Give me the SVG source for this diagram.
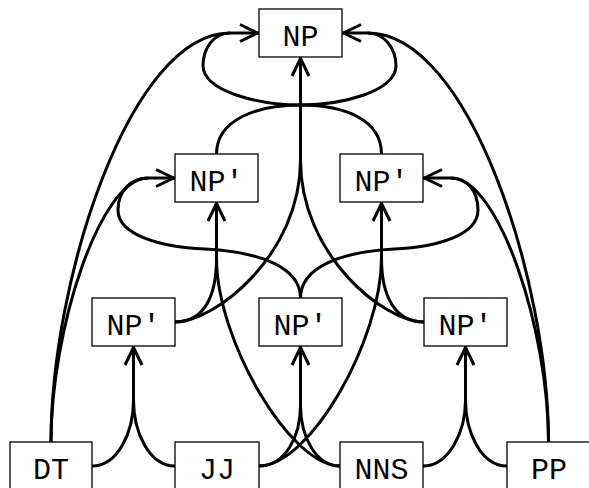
<svg xmlns="http://www.w3.org/2000/svg" width="589" height="488" viewBox="0 0 589 488">
  <style>
    .node rect { fill: #fff; stroke: #000; stroke-width: 1.3; }
    .node text { font-family: "Liberation Mono", "DejaVu Sans Mono", monospace; font-size: 30px; text-anchor: middle; fill: #000; }
    .edges path { fill: none; stroke: #000; stroke-width: 3; }
    .edges path.head { marker-end: url(#arrow); }
  </style>
  <defs>
    <marker id="arrow" markerUnits="userSpaceOnUse" orient="auto" viewBox="-22 -11 24 22" markerWidth="24" markerHeight="22" refX="0" refY="0">
      <path d="M -19 -8.5 L -1.5 0 L -19 8.5" fill="none" stroke="#000" stroke-width="3"/>
    </marker>
  </defs>

  <rect width="589" height="488" fill="#fff"/>

  <!-- hyperedges: each tail runs to a merge point, a single head segment carries the arrow -->
  <g id="edges" class="edges">
    <!-- NP'(DT JJ) <- DT, JJ -->
    <path d="M 92 466 C 118 466 133.5 432 133.5 400"/>
    <path d="M 175 466 C 149 466 133.5 432 133.5 400"/>
    <path class="head" d="M 133.5 400 L 133.5 346"/>

    <!-- NP'(JJ NNS) <- JJ, NNS -->
    <path d="M 259 466 C 285 466 300.5 437 300.5 405"/>
    <path d="M 340 466 C 316 466 300.5 437 300.5 405"/>
    <path class="head" d="M 300.5 405 L 300.5 346"/>

    <!-- NP'(NNS PP) <- NNS, PP -->
    <path d="M 423 466 C 449 466 465.5 432 465.5 400"/>
    <path d="M 507 466 C 481 466 465.5 432 465.5 400"/>
    <path class="head" d="M 465.5 400 L 465.5 346"/>

    <!-- NP'(DT JJ NNS) from below <- NP'(DT JJ), NNS -->
    <path d="M 175 322 C 205 322 216.5 295 216.5 258"/>
    <path d="M 340 466 C 290 466 216.5 340 216.5 258"/>
    <path class="head" d="M 216.5 258 L 216.5 202"/>

    <!-- NP'(JJ NNS PP) from below <- JJ, NP'(NNS PP) -->
    <path d="M 424 322 C 394 322 381.5 295 381.5 258"/>
    <path d="M 259 466 C 310 466 381.5 340 381.5 258"/>
    <path class="head" d="M 381.5 258 L 381.5 202"/>

    <!-- NP'(DT JJ NNS) from the side <- DT, NP'(JJ NNS) -->
    <path d="M 51 442 C 51 330 100 178 148 178"/>
    <path d="M 300.5 298 C 300.5 268 262 252 205 249 C 160 247 118 235 118 210 C 118 190 132 178 148 178"/>
    <path class="head" d="M 148 178 L 175 178"/>

    <!-- NP'(JJ NNS PP) from the side <- PP, NP'(JJ NNS) -->
    <path d="M 548.5 442 C 548.5 330 499 178 451 178"/>
    <path d="M 300.5 298 C 300.5 268 339 252 394 249 C 438 247 478 235 478 210 C 478 190 466 178 451 178"/>
    <path class="head" d="M 451 178 L 423 178"/>

    <!-- NP from below <- NP'(DT JJ), NP'(NNS PP) -->
    <path d="M 175 322 C 215 322 300.5 255 300.5 160"/>
    <path d="M 424 322 C 384 322 300.5 255 300.5 160"/>
    <path class="head" d="M 300.5 160 L 300.5 57"/>

    <!-- NP from the left <- DT, NP'(JJ NNS PP) -->
    <path d="M 51 442 C 51 280 130 33 230 33"/>
    <path d="M 381.5 154 C 381.5 120 345 105 300.5 105 C 260 105 204 92 203 66 C 203 48 214 33 230 33"/>
    <path class="head" d="M 230 33 L 259 33"/>

    <!-- NP from the right <- PP, NP'(DT JJ NNS) -->
    <path d="M 548.5 442 C 548.5 280 469 33 368 33"/>
    <path d="M 216.5 154 C 216.5 120 256 105 300.5 105 C 341 105 395 92 396 66 C 396 48 384 33 368 33"/>
    <path class="head" d="M 368 33 L 342 33"/>
  </g>

  <g id="np" class="node"><rect x="259" y="9" width="83" height="48"/><text x="300.5" y="46">NP</text></g>
  <g id="np_dt_jj_nns" class="node"><rect x="175" y="154" width="83" height="48"/><text x="216.5" y="191">NP'</text></g>
  <g id="np_jj_nns_pp" class="node"><rect x="340" y="154" width="83" height="48"/><text x="381.5" y="191">NP'</text></g>
  <g id="np_dt_jj" class="node"><rect x="92" y="298" width="83" height="48"/><text x="133.5" y="335">NP'</text></g>
  <g id="np_jj_nns" class="node"><rect x="259" y="298" width="83" height="48"/><text x="300.5" y="335">NP'</text></g>
  <g id="np_nns_pp" class="node"><rect x="424" y="298" width="83" height="48"/><text x="465.5" y="335">NP'</text></g>
  <g id="dt" class="node"><rect x="10" y="442" width="82" height="60"/><text x="51" y="479">DT</text></g>
  <g id="jj" class="node"><rect x="175" y="442" width="84" height="60"/><text x="217" y="479">JJ</text></g>
  <g id="nns" class="node"><rect x="340" y="442" width="83" height="60"/><text x="381.5" y="479">NNS</text></g>
  <g id="pp" class="node"><rect x="507" y="442" width="84" height="60"/><text x="549" y="479">PP</text></g>
</svg>
